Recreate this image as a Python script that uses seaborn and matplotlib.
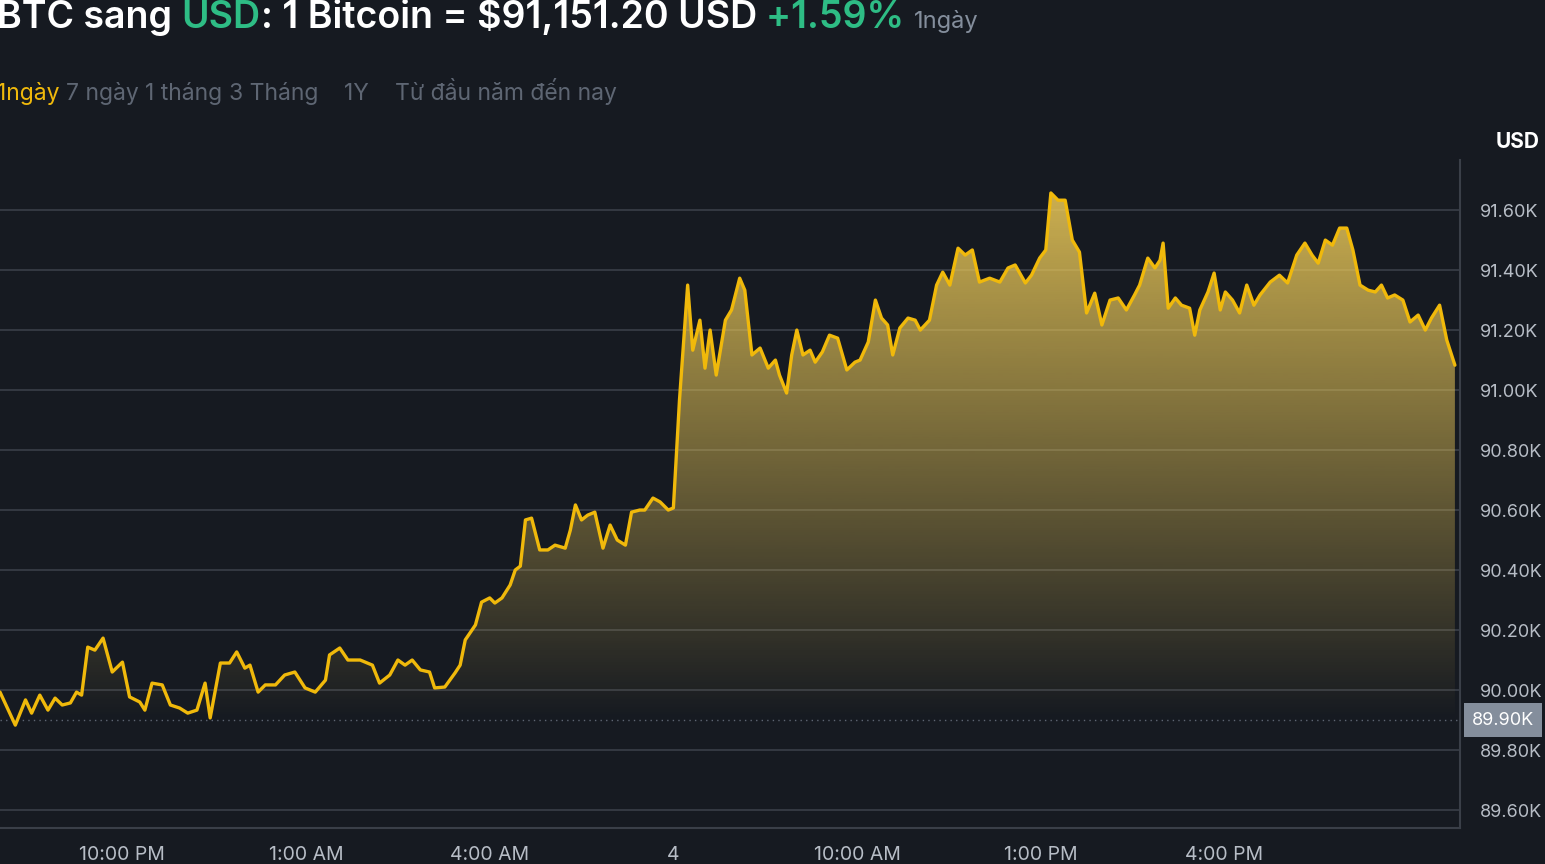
import matplotlib
matplotlib.use("Agg")
import matplotlib.pyplot as plt
import seaborn as sns
import numpy as np
import pandas as pd
from matplotlib.patches import Polygon

minutes = [0,15,25,31,39,47,54,61,69,75,80,86,93,101,110,120,127,137,142,149,159,167,176,184,193,201,206,216,225,232,240,245,253,260,270,279,289,299,309,319,323,333,341,353,365,372,382,390,397,404,412,421,426,436,446,451,456,466,472,480,485,492,500,505,510,515,521,529,537,544,554,559,564,570,576,583,591,598,605,613,619,627,632,640,647,655,660,666,674,679,686,691,696,702,711,717,725,730,737,745,753,760,764,771,776,781,787,794,799,806,813,821,830,838,843,851,858,864,870,875,882,890,897,902,911,918,924,931,939,946,953,960,970,980,988,995,1005,1011,1019,1025,1030,1037,1044,1051,1058,1065,1073,1080,1088,1096,1104,1112,1117,1125,1132,1137,1140,1145,1152,1158,1166,1171,1176,1184,1190,1196,1201,1208,1215,1222,1229,1235,1245,1254,1262,1271,1279,1286,1292,1299,1306,1313,1320,1326,1333,1341,1348,1354,1360,1367,1375,1382,1390,1397,1403,1411,1418,1426]
prices = [89993,89883,89967,89923,89983,89933,89973,89950,89957,89993,89983,90143,90133,90173,90060,90093,89977,89960,89933,90023,90017,89950,89940,89923,89933,90023,89907,90090,90090,90127,90073,90083,89993,90017,90017,90050,90060,90007,89993,90033,90117,90140,90100,90100,90083,90023,90050,90100,90083,90100,90067,90060,90007,90010,90057,90083,90167,90217,90293,90307,90290,90307,90350,90400,90413,90567,90573,90467,90467,90483,90473,90533,90617,90567,90583,90593,90473,90550,90500,90483,90593,90600,90600,90640,90627,90600,90607,90967,91350,91133,91233,91073,91200,91050,91233,91267,91373,91333,91117,91140,91073,91100,91050,90990,91117,91200,91117,91133,91093,91127,91183,91173,91067,91093,91100,91160,91300,91240,91217,91117,91207,91240,91233,91200,91233,91350,91393,91350,91473,91450,91467,91360,91373,91360,91407,91417,91357,91383,91440,91467,91657,91633,91633,91500,91460,91257,91323,91217,91300,91307,91267,91317,91350,91440,91407,91433,91490,91273,91307,91283,91273,91183,91267,91327,91390,91267,91327,91300,91257,91350,91283,91317,91360,91383,91357,91450,91490,91450,91423,91500,91483,91540,91540,91467,91350,91333,91327,91350,91307,91317,91300,91227,91250,91200,91240,91283,91167,91083]
xtick_pos = [120,300,480,660,840,1020,1200]
xtick_labels = ["10:00 PM","1:00 AM","4:00 AM","4","10:00 AM","1:00 PM","4:00 PM"]
ytick_vals = [89600,89800,90000,90200,90400,90600,90800,91000,91200,91400,91600]
ref_price = 89900

BG = "#161a21"
GOLD = "#f0b90b"
GRAY = "#848e9c"
LABEL = "#b7bdc6"

sns.set_theme(style="dark")
plt.rcParams['font.family'] = ['Inter', 'DejaVu Sans']

fig = plt.figure(figsize=(15.45, 8.64), dpi=100, facecolor=BG)
ax = fig.add_axes([0, 36/864, 1460/1545, (828-160)/864])
ax.set_facecolor(BG)

df = pd.DataFrame({"t": minutes, "p": prices})
ax.set_xlim(0, 1431)
ax.set_ylim(89540, 91767)

verts = list(zip(minutes, prices)) + [(minutes[-1], ref_price), (minutes[0], ref_price)]
poly = Polygon(verts, closed=True, facecolor="none", edgecolor="none")
ax.add_patch(poly)
grad = np.linspace(0, 1, 256).reshape(-1, 1)
rgba = np.zeros((256, 1, 4))
rgba[..., 0] = 0.94; rgba[..., 1] = 0.80; rgba[..., 2] = 0.35
rgba[..., 3] = grad * 0.85
im = ax.imshow(rgba, extent=[0, 1431, ref_price, 91680], origin="lower", aspect="auto", zorder=1)
im.set_clip_path(poly)

for v in ytick_vals:
    ax.axhline(v, color="#3a3f48", lw=1.2, zorder=0.5)
ax.axhline(ref_price, color="#5e6673", lw=1, ls=(0, (1, 3)), zorder=0.6)

sns.lineplot(data=df, x="t", y="p", ax=ax, color=GOLD, lw=2.4, zorder=3)

ax.set_xlabel(""); ax.set_ylabel("")
ax.yaxis.tick_right()
ax.set_yticks(ytick_vals)
ax.set_yticklabels([f"{v/1000:.2f}K" for v in ytick_vals], color=LABEL, fontsize=13)
ax.tick_params(axis="y", length=0, pad=14)
ax.set_xticks(xtick_pos)
ax.set_xticklabels(xtick_labels, color=LABEL, fontsize=14)
ax.tick_params(axis="x", length=5, color="#5e6673", pad=8)
for s in ["top", "left"]:
    ax.spines[s].set_visible(False)
for s in ["right", "bottom"]:
    ax.spines[s].set_color("#3a3f48"); ax.spines[s].set_linewidth(1.5)
ax.grid(False)

ax.text(1.008, ref_price, "89.90K", transform=ax.get_yaxis_transform(), va="center", ha="left",
        fontsize=13, color="white",
        bbox=dict(boxstyle="square,pad=0.45", fc="#848e9c", ec="none"))
fig.text(1518/1545, 1-142/864, "USD", ha="center", va="center", fontsize=15, color="white", fontweight="bold")

def seq(parts, x0, y):
    r = fig.canvas.get_renderer()
    x = x0
    for txt, col, sz, w in parts:
        t = fig.text(x, y, txt, color=col, fontsize=sz, fontweight=w, va="baseline", ha="left")
        bb = t.get_window_extent(renderer=r)
        x = x + bb.width / fig.bbox.width

seq([("BTC sang ", "white", 27, "semibold"), ("USD", "#2ebd85", 27, "semibold"),
     (": 1 Bitcoin = $91,151.20 USD ", "white", 27, "semibold"), ("+1.59% ", "#2ebd85", 27, "semibold"),
     ("1ngày", GRAY, 17, "normal")], -0.002, 1-28/864)
seq([("1ngày ", GOLD, 16.5, "normal"), ("7 ngày ", "#5e6673", 16.5, "normal"), ("1 tháng ", "#5e6673", 16.5, "normal"),
     ("3 Tháng    ", "#5e6673", 16.5, "normal"), ("1Y    ", "#5e6673", 16.5, "normal"),
     ("Từ đầu năm đến nay", "#5e6673", 16.5, "normal")], -0.002, 1-100/864)

fig.savefig("out.png", dpi=100, facecolor=BG)
